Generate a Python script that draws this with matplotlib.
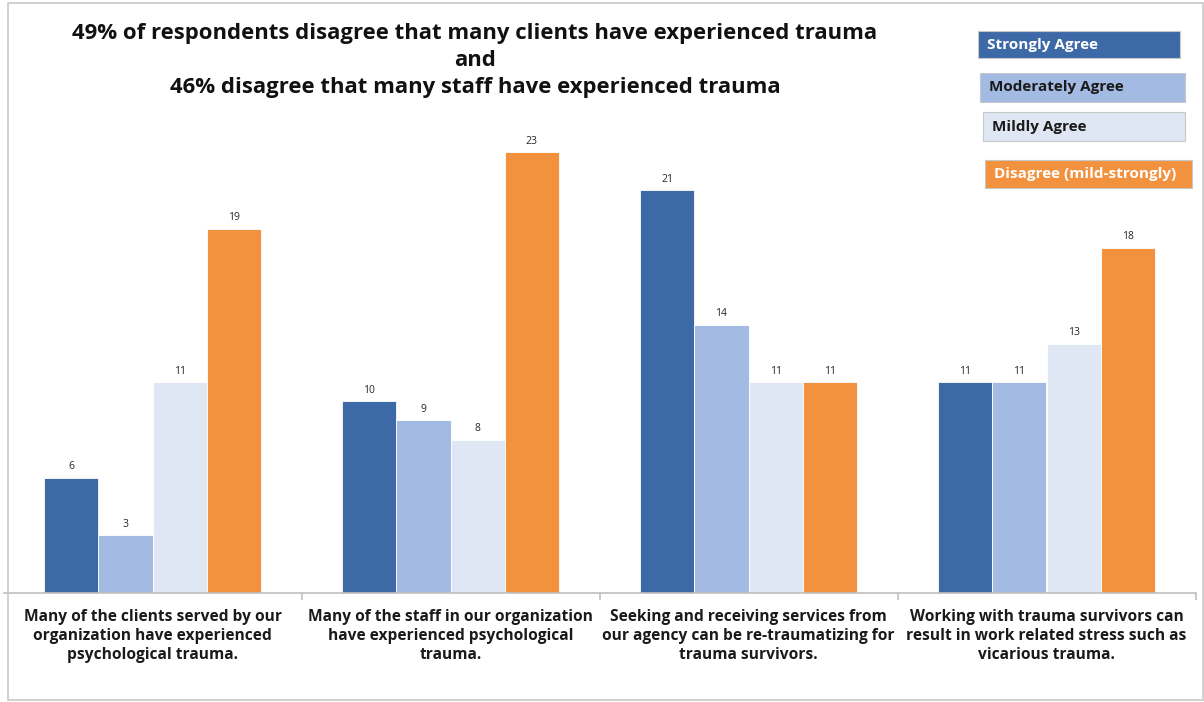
import matplotlib
matplotlib.use("Agg")
import matplotlib.pyplot as plt
from matplotlib.patches import Rectangle
import numpy as np

categories = [
    "Many of the clients served by our\norganization have experienced\npsychological trauma.",
    "Many of the staff in our organization\nhave experienced psychological\ntrauma.",
    "Seeking and receiving services from\nour agency can be re-traumatizing for\ntrauma survivors.",
    "Working with trauma survivors can\nresult in work related stress such as\nvicarious trauma.",
]
series_names = ["Strongly Agree", "Moderately Agree", "Mildly Agree", "Disagree (mild-strongly)"]
strongly_agree = [6, 10, 21, 11]
moderately_agree = [3, 9, 14, 11]
mildly_agree = [11, 8, 11, 13]
disagree = [19, 23, 11, 18]
series = [strongly_agree, moderately_agree, mildly_agree, disagree]
colors = ["#3D69A6", "#A3BBE3", "#DFE6F4", "#F2913E"]
text_colors = ["white", "#1a1a1a", "#1a1a1a", "white"]
title_lines = [
    "49% of respondents disagree that many clients have experienced trauma",
    "and",
    "46% disagree that many staff have experienced trauma",
]

W, H = 1204, 702
fig = plt.figure(figsize=(W / 100, H / 100), dpi=100)
FONT = "Open Sans"

# axes in pixel coordinates
ax_left, ax_right = 3.5, 1195.5
ax_bottom = 593
ymax = 25
px_per_unit = 19.17
ax_top = ax_bottom - ymax * px_per_unit
ax = fig.add_axes([ax_left / W, 1 - ax_bottom / H, (ax_right - ax_left) / W, (ax_bottom - ax_top) / H])

x = np.arange(len(categories))
bw = 0.182
offsets = (np.arange(4) - 1.5) * bw
for i, (vals, c) in enumerate(zip(series, colors)):
    bars = ax.bar(x + offsets[i], vals, width=bw, color=c, edgecolor="white", linewidth=0.6, zorder=2)
    for b, v in zip(bars, vals):
        ax.annotate(str(v), (b.get_x() + b.get_width() / 2, v), xytext=(0, 4),
                    textcoords="offset points", ha="center", va="bottom",
                    fontsize=7.5, color="#262626", family=FONT)

ax.set_xlim(-0.5, 3.5)
ax.set_ylim(0, ymax)
for s in ["left", "right", "top"]:
    ax.spines[s].set_visible(False)
ax.spines["bottom"].set_color("#BFBFBF")
ax.spines["bottom"].set_linewidth(1.2)
ax.set_yticks([])
ax.set_xticks([0.5, 1.5, 2.5, 3.5])
ax.set_xticklabels([])
ax.tick_params(axis="x", length=5, color="#BFBFBF", width=1.2, direction="out")

for xi, lab in zip(x, categories):
    ax.text(xi, -0.85, lab, ha="center", va="top", fontsize=11.2, fontweight="bold",
            family=FONT, color="#1a1a1a", linespacing=1.22, transform=ax.transData)

# title
for yy, line in zip([33, 60, 87], title_lines):
    fig.text(475 / W, 1 - yy / H, line, ha="center", va="center", fontsize=15.9,
             fontweight="bold", family=FONT, color="#111111")

# legend boxes
boxes = [(978, 31, 202, 27), (980, 73, 205, 29), (983, 112, 202, 29), (985, 160, 207, 28)]
for (bx, by, bwid, bh), name, c, tc in zip(boxes, series_names, colors, text_colors):
    fig.patches.append(Rectangle((bx / W, 1 - (by + bh) / H), bwid / W, bh / H,
                                 transform=fig.transFigure, facecolor=c,
                                 edgecolor="#C8C8C8", linewidth=0.8))
    fig.text((bx + 9) / W, 1 - (by + bh / 2) / H, name, ha="left", va="center",
             fontsize=11, fontweight="bold", family=FONT, color=tc)

# outer frame
fig.patches.append(Rectangle((8 / W, 1 - 700 / H), 1195 / W, 697 / H, transform=fig.transFigure,
                             facecolor="none", edgecolor="#C8C8C8", linewidth=1.2))

fig.savefig("out.png", dpi=100)
